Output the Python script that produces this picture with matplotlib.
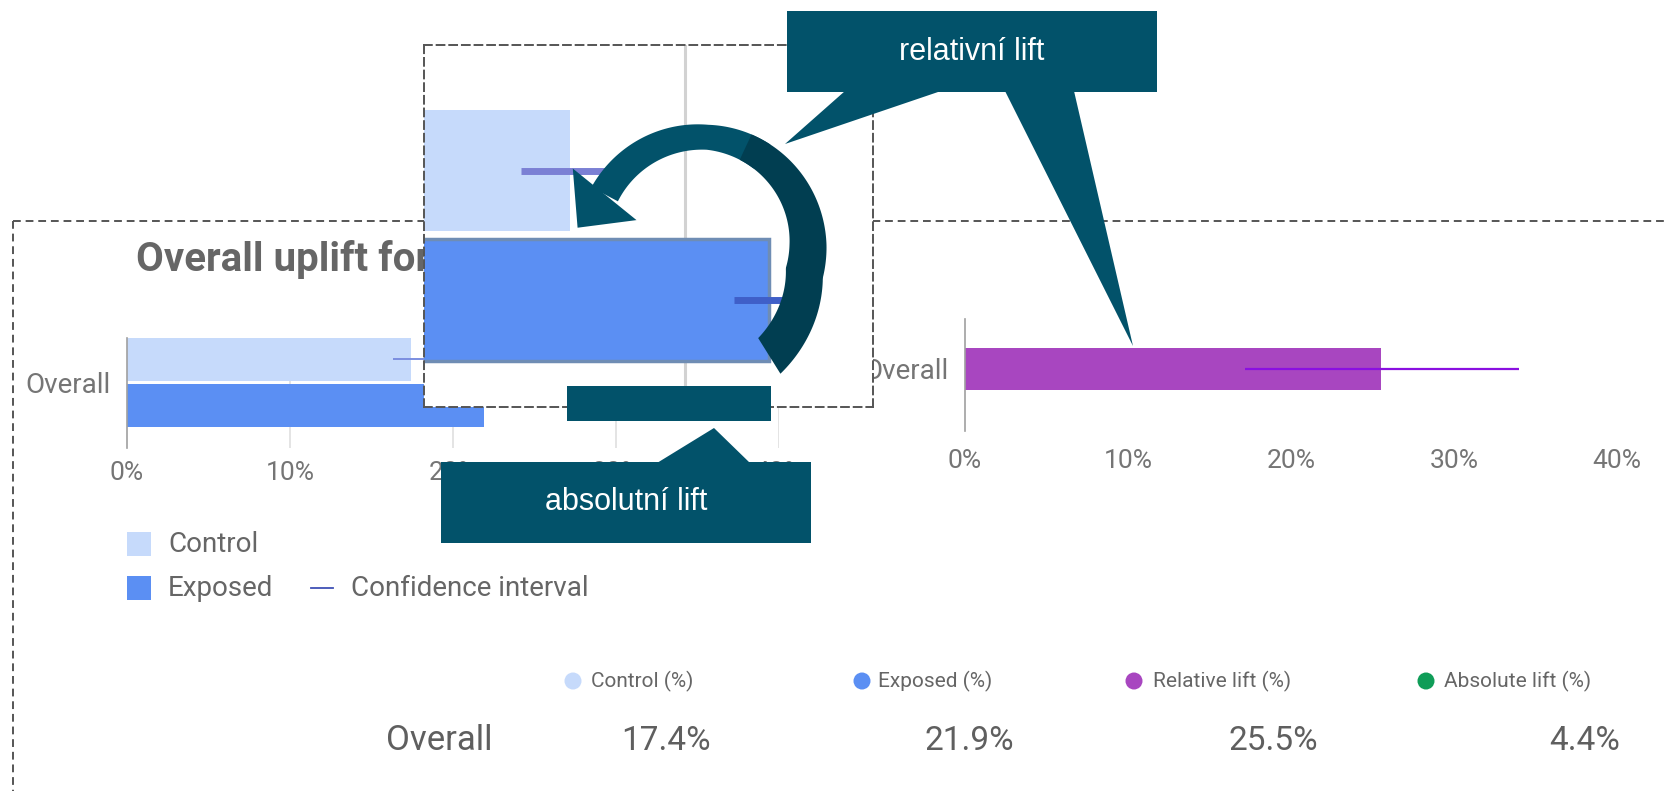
import numpy as np
import matplotlib
matplotlib.use("Agg")
import matplotlib.pyplot as plt
from matplotlib.patches import Rectangle, Polygon, Circle

plt.rcParams["font.family"] = ["Roboto", "DejaVu Sans"]

W, H = 1667, 791

# Uplift study results (share of converting users)
groups = ["Control", "Exposed"]
rates = [0.174, 0.219]
rate_ci_low = [0.163, 0.211]
rate_ci_high = [0.185, 0.227]
rel_lift = 0.255
rel_ci = [0.172, 0.340]
abs_lift = 0.044
axis_ticks = [0.0, 0.1, 0.2, 0.3, 0.4]
tick_labels = ["0%", "10%", "20%", "30%", "40%"]
summary_cols = ["Control (%)", "Exposed (%)", "Relative lift (%)", "Absolute lift (%)"]
summary_vals = [rates[0], rates[1], rel_lift, abs_lift]

CONTROL = "#c6dafb"
EXPOSED = "#5b8ff3"
PURPLE = "#a846c0"
GREEN = "#0f9d58"
TEAL = "#02526a"
TEAL_DARK = "#013e51"
TEXT = "#666666"
TICK = "#757575"
DASH = (0, (4, 2.5))


def px_axes(fig, x0, y0, x1, y1, **kw):
    """Axes placed by pixel box (origin top-left)."""
    return fig.add_axes([x0 / W, 1 - y1 / H, (x1 - x0) / W, (y1 - y0) / H], **kw)


def overlay(fig, z):
    ax = fig.add_axes([0, 0, 1, 1], zorder=z)
    ax.set_xlim(0, W)
    ax.set_ylim(H, 0)
    ax.axis("off")
    ax.patch.set_alpha(0)
    return ax


def style_bar_axes(ax):
    for s in ["top", "right", "bottom"]:
        ax.spines[s].set_visible(False)
    ax.spines["left"].set_color("#a0a0a0")
    ax.spines["left"].set_linewidth(1.2)
    ax.set_xlim(0, 0.4)
    ax.set_xticks(axis_ticks)
    ax.set_xticklabels(tick_labels)
    ax.tick_params(axis="both", length=0, labelsize=19, labelcolor=TICK)
    ax.patch.set_alpha(0)


fig = plt.figure(figsize=(W / 100, H / 100), dpi=100)
fig.patch.set_facecolor("white")

# ---------------------------------------------------------------- background
bg = overlay(fig, 0)
bg.plot([13, W], [221, 221], color="#555555", lw=1.4, ls=DASH)
bg.plot([13, 13], [221, H], color="#555555", lw=1.4, ls=DASH)
bg.text(136, 271, "Overall uplift for", fontsize=29, fontweight="bold",
        color=TEXT, va="baseline")

# legend of the rate chart
bg.add_patch(Rectangle((127, 532), 24, 24, color=CONTROL, lw=0))
bg.add_patch(Rectangle((127, 576), 24, 24, color=EXPOSED, lw=0))
bg.text(168, 545, "Control", fontsize=20, color=TEXT, va="center")
bg.text(168, 588, "Exposed", fontsize=20, color=TEXT, va="center")
bg.plot([311, 333], [588, 588], color="#3f51b5", lw=1.3)
bg.text(351, 588, "Confidence interval", fontsize=20, color=TEXT, va="center")

# summary table
dot_x = [573, 862, 1134, 1426]
head_x = [591, 878, 1153, 1444]
val_x = [711, 1014, 1318, 1620]
dot_c = [CONTROL, EXPOSED, PURPLE, GREEN]
for dx, hx, vx, c, name, v in zip(dot_x, head_x, val_x, dot_c, summary_cols, summary_vals):
    bg.add_patch(Circle((dx, 681), 8.5, color=c, lw=0))
    bg.text(hx, 681, name, fontsize=15, color=TEXT, va="center")
    bg.text(vx, 741, f"{v * 100:.1f}%", fontsize=24, color="#5f5f5f",
            va="center", ha="right")
bg.text(492, 741, "Overall", fontsize=25, color="#5f5f5f", va="center", ha="right")

# ---------------------------------------------------------------- rate chart
ax1 = px_axes(fig, 127, 338, 779, 448, zorder=1)
style_bar_axes(ax1)
ax1.set_ylim(1.924, -0.467)
for t in axis_ticks[1:]:
    ax1.axvline(t, color="#e2e2e2", lw=1.3, zorder=0)
ypos = np.arange(len(groups))
ax1.barh(ypos, rates, height=0.935, color=[CONTROL, EXPOSED], zorder=2)
ax1.hlines(ypos, rate_ci_low, rate_ci_high, colors=["#7b8ee0", "#3f63d0"],
           lw=1.4, zorder=3)
ax1.set_yticks([0.5])
ax1.set_yticklabels(["Overall"])
ax1.tick_params(axis="y", pad=12, labelsize=20)
ax1.tick_params(axis="x", pad=9)

# ---------------------------------------------------------------- lift chart
ax2 = px_axes(fig, 965, 319, 1617, 431, zorder=1)
style_bar_axes(ax2)
ax2.set_ylim(1.476, -1.19)
ax2.barh([0], [rel_lift], height=1.0, color=PURPLE, zorder=2)
ax2.hlines([0], rel_ci[0], rel_ci[1], colors="#8a10e0", lw=1.6, zorder=3)
ax2.set_yticks([0])
ax2.set_yticklabels(["Overall"])
ax2.tick_params(axis="y", pad=12, labelsize=20)
ax2.tick_params(axis="x", pad=13)

# ---------------------------------------------------------------- magnified view
axi = px_axes(fig, 424, 45, 873, 407, zorder=5)
axi.set_facecolor("white")
axi.set_xlim(0.141, 0.2424)
axi.set_ylim(1.826, -0.969)
axi.set_xticks([])
axi.set_yticks([])
for s in axi.spines.values():
    s.set_color("#555555")
    s.set_linewidth(1.4)
    s.set_linestyle(DASH)
axi.axvline(0.2, color="#d2d2d2", lw=2.2, zorder=0)
axi.barh([0], [rates[0]], height=0.94, color=CONTROL, zorder=2)
axi.barh([1], [rates[1]], height=0.94, color=EXPOSED, edgecolor="#6f8db4",
         lw=2.5, zorder=2)
axi.hlines(ypos, rate_ci_low, rate_ci_high, colors=["#7b80d4", "#3f5fc8"],
           lw=5, zorder=3)

# ---------------------------------------------------------------- call-outs
top = overlay(fig, 10)


def callout(ax, x0, y0, x1, y1, text, tails):
    ax.add_patch(Rectangle((x0, y0), x1 - x0, y1 - y0, color=TEAL, lw=0))
    for tail in tails:
        ax.add_patch(Polygon(tail, closed=True, color=TEAL, lw=0))
    ax.text((x0 + x1) / 2, (y0 + y1) / 2, text, fontsize=22, color="white",
            ha="center", va="center", family=["Liberation Sans", "DejaVu Sans"])


callout(top, 787, 11, 1157, 92, "relativní lift",
        [[(845, 91), (785, 144), (941, 91)],
         [(1005, 91), (1133, 346), (1074, 91)]])
callout(top, 441, 462, 811, 543, "absolutní lift",
        [[(657, 463), (714, 428), (750, 463)]])
top.add_patch(Rectangle((567, 386), 204, 35, color=TEAL, lw=0))

# curved arrow from the exposed bar back to the control bar
cx, cy = 700, 245


def band(th0, th1):
    deg = np.linspace(th0, th1, 120)
    th = np.radians(deg)
    r = 108 + np.clip(deg - 15, 0, None) * 0.53
    w = np.interp(deg, [-152, -86, 0, 58], [30, 25, 37, 42])
    outer = np.column_stack([cx + (r + w / 2) * np.cos(th), cy + (r + w / 2) * np.sin(th)])
    inner = np.column_stack([cx + (r - w / 2) * np.cos(th), cy + (r - w / 2) * np.sin(th)])
    return np.vstack([outer, inner[::-1]])


top.add_patch(Polygon(band(-152, -55), closed=True, color=TEAL, lw=0))
top.add_patch(Polygon(band(-65, 58), closed=True, color=TEAL_DARK, lw=0))

end = np.radians(-152)
base = np.array([cx + 108 * np.cos(end), cy + 108 * np.sin(end)])
a = np.radians(-141)
d = np.array([np.sin(a), -np.cos(a)])
n = np.array([d[1], -d[0]])
head = [base + 41 * n, base + 43 * d, base - 41 * n]
top.add_patch(Polygon(head, closed=True, color=TEAL, lw=0))

fig.savefig("out.png", dpi=100, facecolor="white")
